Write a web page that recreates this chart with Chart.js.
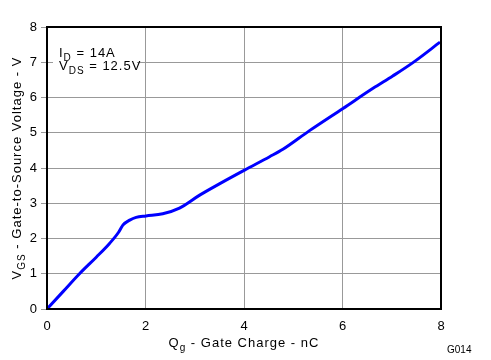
<!DOCTYPE html>
<html><head><meta charset="utf-8">
<script src="https://cdn.jsdelivr.net/npm/chart.js@4/dist/chart.umd.min.js"></script>
<style>html,body{margin:0;padding:0;background:#fff;}#wrap{width:491px;height:360px;position:relative;}</style>
</head><body><div id="wrap"><canvas id="c" width="491" height="360"></canvas></div>
<script>
const gateCharge = [0, 0.33, 0.66, 1.0, 1.27, 1.45, 1.54, 1.68, 1.81, 2.01, 2.35, 2.69, 3.10, 3.50, 4.01, 4.52, 4.79, 5.33, 6.01, 6.62, 7.02, 7.43, 7.98];
const gateVoltage = [0, 0.50, 1.00, 1.47, 1.86, 2.17, 2.38, 2.52, 2.60, 2.64, 2.70, 2.86, 3.23, 3.55, 3.94, 4.32, 4.53, 5.06, 5.69, 6.26, 6.61, 6.99, 7.57];
const xTicks = [0, 2, 4, 6, 8];
const yTicks = [0, 1, 2, 3, 4, 5, 6, 7, 8];
const FONT = '"Liberation Sans", Arial, sans-serif';

function drawSub(ctx, parts, x, y, size, align) {
  let total = 0;
  const widths = parts.map(p => { ctx.font = (p[1] ? Math.round(size * 0.8) : size) + 'px ' + FONT; const w = ctx.measureText(p[0]).width; total += w; return w; });
  let cx = align === 'center' ? x - total / 2 : x;
  parts.forEach((p, i) => {
    ctx.font = (p[1] ? Math.round(size * 0.8) : size) + 'px ' + FONT;
    ctx.fillText(p[0], cx, y + (p[1] ? size * 0.28 : 0));
    cx += widths[i];
  });
  return total;
}

const labelsPlugin = {
  id: 'labels',
  afterDraw(chart) {
    const ctx = chart.ctx;
    const a = chart.chartArea;
    ctx.save();
    ctx.textBaseline = 'alphabetic';
    ctx.textAlign = 'left';
    if ('letterSpacing' in ctx) ctx.letterSpacing = '1px';
    ctx.fillStyle = '#fff';
    ctx.fillRect(53, 45, 84, 29);
    ctx.strokeStyle = '#000';
    ctx.lineWidth = 2;
    ctx.strokeRect(a.left, a.top, a.right - a.left, a.bottom - a.top);
    ctx.fillStyle = '#000';
    drawSub(ctx, [['Q', false], ['g', true], [' - Gate Charge - nC', false]], (a.left + a.right) / 2, 347, 13, 'center');
    ctx.save();
    ctx.translate(21, (a.top + a.bottom) / 2);
    ctx.rotate(-Math.PI / 2);
    drawSub(ctx, [['V', false], ['GS', true], [' - Gate-to-Source Voltage - V', false]], 0, 0, 13, 'center');
    ctx.restore();
    drawSub(ctx, [['I', false], ['D', true], [' = 14A', false]], 59, 57, 13, 'left');
    drawSub(ctx, [['V', false], ['DS', true], [' = 12.5V', false]], 59, 70, 13, 'left');
    if ('letterSpacing' in ctx) ctx.letterSpacing = '0px';
    ctx.font = '10px ' + FONT;
    ctx.fillText('G014', 447, 353);
    ctx.restore();
  }
};

new Chart(document.getElementById('c'), {
  type: 'line',
  data: {
    datasets: [{
      data: gateCharge.map((q, i) => ({ x: q, y: gateVoltage[i] })),
      borderColor: '#0000ff',
      borderWidth: 3,
      pointRadius: 0,
      tension: 0.3,
      cubicInterpolationMode: 'monotone',
      fill: false
    }]
  },
  options: {
    responsive: false,
    animation: false,
    layout: { padding: { left: 0, top: 27, right: 50, bottom: 0 } },
    plugins: { legend: { display: false }, tooltip: { enabled: false } },
    scales: {
      x: {
        type: 'linear', min: 0, max: 8,
        afterBuildTicks: s => { s.ticks = xTicks.map(v => ({ value: v })); },
        afterFit: s => { s.height = 51; },
        grid: { color: '#999', lineWidth: 1, drawTicks: false },
        border: { display: false },
        ticks: { color: '#000', font: { family: FONT, size: 13 }, padding: 10, maxRotation: 0 }
      },
      y: {
        type: 'linear', min: 0, max: 8,
        afterBuildTicks: s => { s.ticks = yTicks.map(v => ({ value: v })); },
        afterFit: s => { s.width = 47; },
        grid: { color: '#999', lineWidth: 1, tickLength: 6 },
        border: { display: false },
        ticks: { color: '#000', font: { family: FONT, size: 13 }, padding: 4 }
      }
    }
  },
  plugins: [labelsPlugin]
});
</script></body></html>
